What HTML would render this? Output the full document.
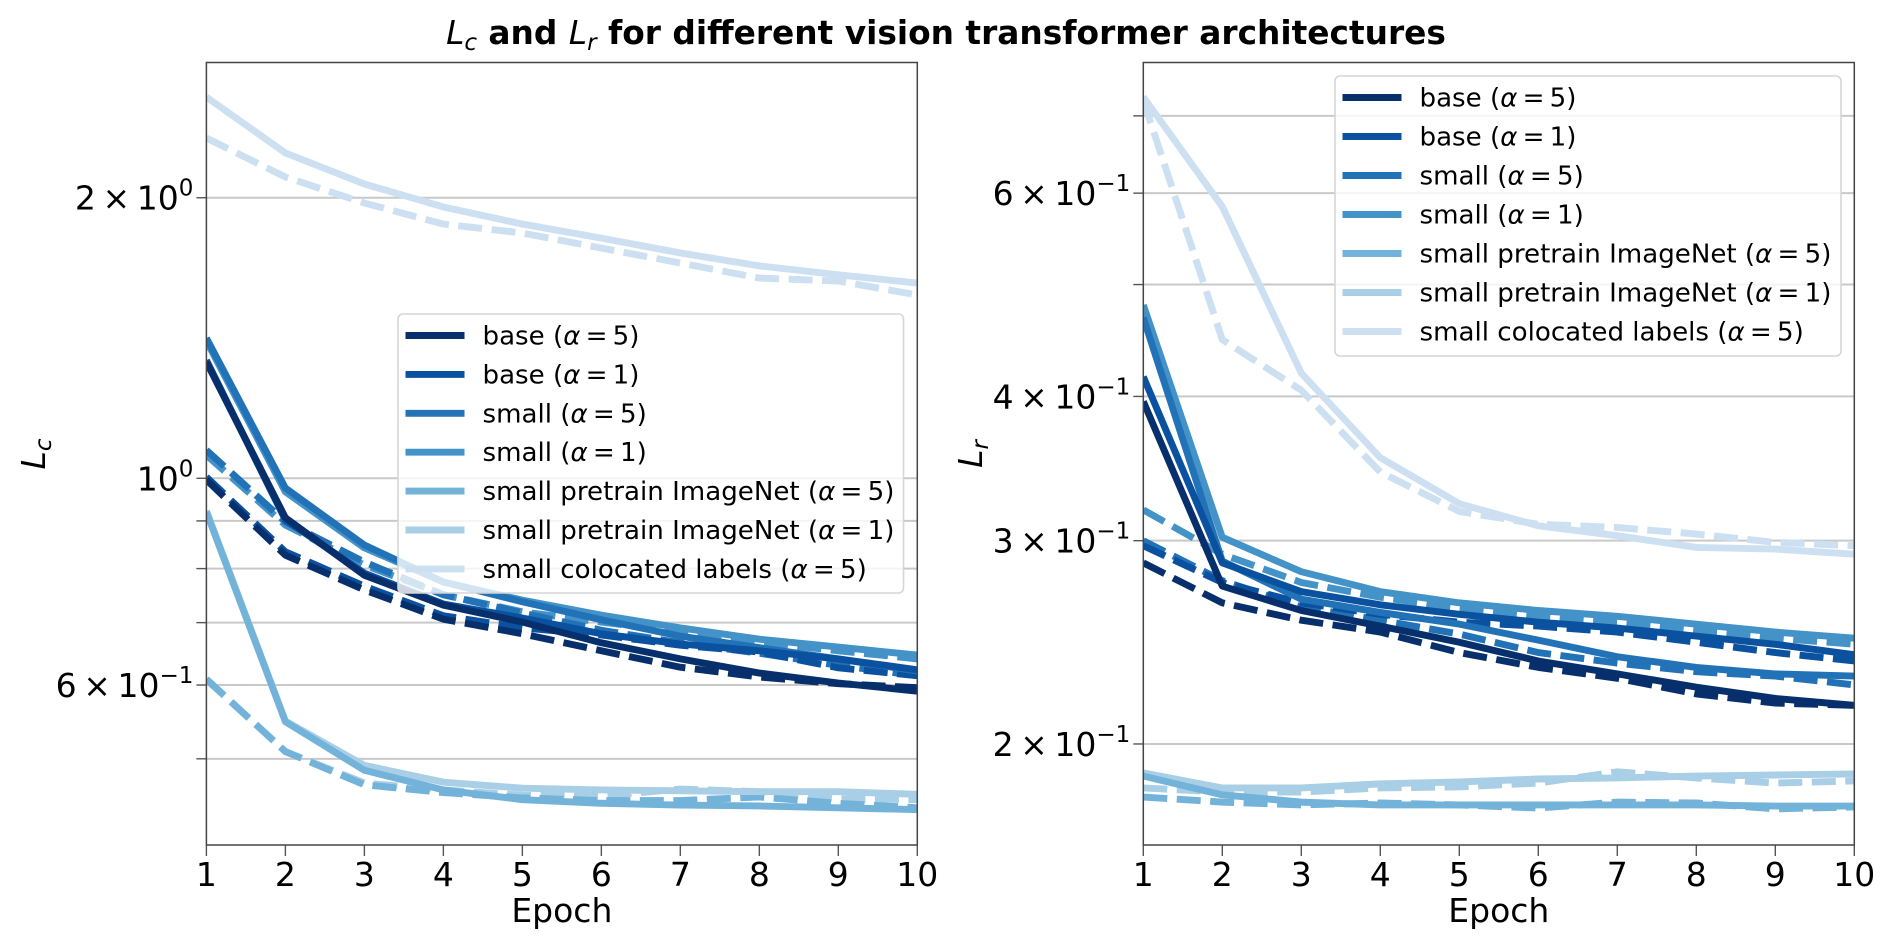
<!DOCTYPE html>
<html lang="en">
<head>
<meta charset="utf-8">
<title>Lc and Lr for different vision transformer architectures</title>
<style>
  html,body{margin:0;padding:0;background:#fff;width:1892px;height:948px;overflow:hidden}
  svg{display:block}
  text{font-family:"DejaVu Sans","Liberation Sans",sans-serif;fill:#000}
  .it{font-style:italic;font-weight:400}
</style>
</head>
<body>
<svg id="figure" xmlns="http://www.w3.org/2000/svg" width="1892" height="948" viewBox="0 0 1892 948">
  <text x="946" y="44" text-anchor="middle" font-size="32.8" font-weight="700" xml:space="preserve"><tspan class="it">L</tspan><tspan class="it" font-size="23" dy="6">c</tspan><tspan dy="-6"> and </tspan><tspan class="it">L</tspan><tspan class="it" font-size="23" dy="6">r</tspan><tspan dy="-6"> for different vision transformer architectures</tspan></text>
  <g id="left-panel"></g>
  <g id="right-panel"></g>
</svg>
<script>
const epochs = [1,2,3,4,5,6,7,8,9,10];
const seriesNames = ['base','base','small','small','small pretrain ImageNet','small pretrain ImageNet','small colocated labels'];
const seriesAlphas = [5,1,5,1,5,1,5];
const seriesKeys = ['base-a5','base-a1','small-a5','small-a1','pretrain-a5','pretrain-a1','colocated-a5'];
const seriesColors = ['#062f6c','#0a519f','#2272b8','#4493c8','#73b3da','#a8cfe6','#cde0f2'];

const leftBase5Solid = [1.333,.907,.787,.731,.701,.666,.640,.618,.603,.591];
const leftBase1Solid = [1.339,.902,.791,.733,.708,.681,.664,.653,.640,.623];
const leftSmall5Solid = [1.414,.976,.848,.774,.737,.705,.677,.658,.640,.621];
const leftSmall1Solid = [1.404,.967,.842,.774,.740,.713,.691,.672,.659,.646];
const leftPre5Solid = [.920,.548,.486,.463,.452,.448,.446,.445,.443,.441];
const leftPre1Solid = [.923,.549,.492,.472,.465,.463,.462,.461,.461,.458];
const leftColoSolid = [2.565,2.234,2.069,1.955,1.874,1.810,1.745,1.690,1.653,1.620];

const leftBase5Dash = [.996,.827,.759,.706,.681,.653,.627,.612,.602,.596];
const leftBase1Dash = [1.003,.834,.766,.712,.691,.679,.662,.651,.626,.614];
const leftSmall5Dash = [1.072,.898,.813,.750,.717,.687,.666,.649,.630,.614];
const leftSmall1Dash = [1.059,.891,.807,.750,.719,.701,.684,.667,.653,.640];
const leftPre5Dash = [.609,.509,.469,.460,.454,.451,.451,.455,.448,.443];
const leftPre1Dash = [.608,.509,.471,.463,.457,.456,.464,.461,.453,.452];
const leftColoDash = [2.318,2.105,1.974,1.874,1.833,1.766,1.702,1.640,1.628,1.573];

const rightBase5Solid = [.396,.274,.261,.253,.245,.236,.230,.224,.219,.216];
const rightBase1Solid = [.416,.287,.271,.264,.259,.255,.252,.248,.244,.239];
const rightSmall5Solid = [.468,.288,.267,.260,.254,.246,.238,.233,.230,.229];
const rightSmall1Solid = [.480,.302,.282,.271,.265,.261,.258,.254,.250,.247];
const rightPre5Solid = [.1876,.1807,.1781,.1771,.1771,.1771,.1771,.1771,.1767,.1767];
const rightPre1Solid = [.1888,.1832,.1832,.1847,.1854,.1865,.1869,.1876,.1880,.1884];
const rightColoSolid = [.727,.584,.419,.354,.323,.309,.303,.296,.295,.292];

const rightBase5Dash = [.287,.265,.256,.250,.240,.233,.228,.221,.217,.216];
const rightBase1Dash = [.297,.276,.265,.259,.255,.253,.250,.245,.240,.236];
const rightSmall5Dash = [.300,.277,.263,.256,.249,.240,.235,.231,.229,.225];
const rightSmall1Dash = [.319,.292,.276,.268,.262,.258,.255,.251,.247,.244];
const rightPre5Dash = [.1799,.1781,.1771,.1778,.1771,.1760,.1781,.1778,.1757,.1764];
const rightPre1Dash = [.1832,.1817,.1817,.1832,.1836,.1850,.1892,.1869,.1850,.1858];
const rightColoDash = [.722,.448,.405,.344,.318,.310,.308,.304,.299,.297];

const leftSolid = [leftBase5Solid,leftBase1Solid,leftSmall5Solid,leftSmall1Solid,leftPre5Solid,leftPre1Solid,leftColoSolid];
const leftDash = [leftBase5Dash,leftBase1Dash,leftSmall5Dash,leftSmall1Dash,leftPre5Dash,leftPre1Dash,leftColoDash];
const rightSolid = [rightBase5Solid,rightBase1Solid,rightSmall5Solid,rightSmall1Solid,rightPre5Solid,rightPre1Solid,rightColoSolid];
const rightDash = [rightBase5Dash,rightBase1Dash,rightSmall5Dash,rightSmall1Dash,rightPre5Dash,rightPre1Dash,rightColoDash];

const leftGridTicks = [2,1,.9,.8,.7,.6,.5];
const leftLabelTicks = [2,1,.6];
const rightGridTicks = [.7,.6,.5,.4,.3,.2];
const rightLabelTicks = [.6,.4,.3,.2];

const NS = 'http://www.w3.org/2000/svg';
function mk(parent, tag, attrs, text){
  const el = document.createElementNS(NS, tag);
  for (const k in attrs) el.setAttribute(k, attrs[k]);
  if (text !== undefined) el.textContent = text;
  parent.appendChild(el);
  return el;
}

function drawPanel(cfg){
  const g = document.getElementById(cfg.id);
  const top = 62.5, bottom = 845;
  const lineWidth = 6.9;
  const xS = e => cfg.x0 + (e - 1) * (cfg.x1 - cfg.x0) / 9;
  const yS = v => bottom - (Math.log10(v) - Math.log10(cfg.ymin)) / (Math.log10(cfg.ymax) - Math.log10(cfg.ymin)) * (bottom - top);
  const clipId = cfg.id + '-clip';
  const defs = mk(g, 'defs', {});
  const cp = mk(defs, 'clipPath', {id: clipId});
  mk(cp, 'rect', {x: cfg.x0, y: top, width: cfg.x1 - cfg.x0, height: bottom - top});

  cfg.gridTicks.forEach(v => {
    const y = yS(v);
    const gl = mk(g, 'line', {x1: cfg.x0, x2: cfg.x1, y1: y, y2: y, stroke: '#c9c9c9', 'stroke-width': 2});
    
    
    const tk = mk(g, 'line', {x1: cfg.x0 - 10, x2: cfg.x0, y1: y, y2: y, stroke: '#555', 'stroke-width': 1.4});
    
    
  });

  cfg.labelTicks.forEach(v => {
    const exp = Math.floor(Math.log10(v) + 1e-9);
    const man = Math.round(v / Math.pow(10, exp));
    const t = mk(g, 'text', {x: cfg.x0 - 13, y: yS(v) + 12, 'text-anchor': 'end', 'font-size': 33});
    
    
    t.setAttribute('xml:space', 'preserve');
    const base = man === 1 ? '10' : man + '\u2009\u00d7\u200910';
    mk(t, 'tspan', {}, base);
    const sup = exp < 0 ? '\u2212' + (-exp) : String(exp);
    mk(t, 'tspan', {'font-size': 23, dy: -14}, sup);
  });

  const lines = mk(g, 'g', {'clip-path': 'url(#' + clipId + ')'});
  const pathOf = vals => vals.map((v, i) => (i ? 'L' : 'M') + xS(epochs[i]).toFixed(2) + ' ' + yS(v).toFixed(2)).join(' ');
  for (let i = cfg.dash.length - 1; i >= 0; i--) {
    const p = mk(lines, 'path', {d: pathOf(cfg.dash[i]), fill: 'none', stroke: seriesColors[i], 'stroke-width': lineWidth, 'stroke-dasharray': '24 9.5', 'stroke-linejoin': 'round'});
    
    
  }
  for (let i = cfg.solid.length - 1; i >= 0; i--) {
    const p = mk(lines, 'path', {d: pathOf(cfg.solid[i]), fill: 'none', stroke: seriesColors[i], 'stroke-width': lineWidth, 'stroke-linejoin': 'round'});
    
    
  }

  epochs.forEach(e => {
    const x = xS(e);
    const tk = mk(g, 'line', {x1: x, x2: x, y1: bottom, y2: bottom + 11, stroke: '#555', 'stroke-width': 1.4});
    
    
    const t = mk(g, 'text', {x: x, y: 886, 'text-anchor': 'middle', 'font-size': 33}, String(e));
    
    
  });

  const frame = mk(g, 'rect', {x: cfg.x0, y: top, width: cfg.x1 - cfg.x0, height: bottom - top, fill: 'none', stroke: '#444', 'stroke-width': 1.5});
  
  

  const xl = mk(g, 'text', {x: (cfg.x0 + cfg.x1) / 2, y: 922, 'text-anchor': 'middle', 'font-size': 33}, 'Epoch');
  
  

  const yl = mk(g, 'text', {transform: 'translate(' + cfg.ylabelX + ' 454) rotate(-90)', 'text-anchor': 'middle', 'font-size': 33});
  
  
  mk(yl, 'tspan', {class: 'it'}, 'L');
  mk(yl, 'tspan', {class: 'it', 'font-size': 23, dy: 6}, cfg.ylabelSub);

  const lg = mk(g, 'g', {});
  
  
  const box = mk(lg, 'rect', {x: cfg.legend.x, y: cfg.legend.y, width: cfg.legend.w, height: cfg.legend.h, rx: 5, fill: '#fff', 'fill-opacity': .8, stroke: '#d6d6d6', 'stroke-width': 1.6});
  
  
  seriesNames.forEach((nm, i) => {
    const y = cfg.legend.y + cfg.legend.first + i * cfg.legend.step;
    const h = mk(lg, 'line', {x1: cfg.legend.x + 7.5, x2: cfg.legend.x + 66.5, y1: y, y2: y, stroke: seriesColors[i], 'stroke-width': lineWidth});
    
    
    const t = mk(lg, 'text', {x: cfg.legend.x + 84.5, y: y + 9, 'font-size': 26.1});
    
    
    t.setAttribute('xml:space', 'preserve');
    mk(t, 'tspan', {}, nm + ' (');
    mk(t, 'tspan', {class: 'it'}, '\u03b1');
    mk(t, 'tspan', {}, '\u2009=\u2009' + seriesAlphas[i] + ')');
  });
}

drawPanel({id: 'left-panel', x0: 206.4, x1: 917.3, ymin: .4041, ymax: 2.7935,
  solid: leftSolid, dash: leftDash, gridTicks: leftGridTicks, labelTicks: leftLabelTicks,
  ylabelX: 45, ylabelSub: 'c',
  legend: {x: 398, y: 314, w: 505.5, h: 279, first: 21.5, step: 38.9}});
drawPanel({id: 'right-panel', x0: 1143.3, x1: 1854.3, ymin: .1635, ymax: .7786,
  solid: rightSolid, dash: rightDash, gridTicks: rightGridTicks, labelTicks: rightLabelTicks,
  ylabelX: 982, ylabelSub: 'r',
  legend: {x: 1335, y: 76, w: 506, h: 280, first: 21.5, step: 39}});
</script>
</body>
</html>
